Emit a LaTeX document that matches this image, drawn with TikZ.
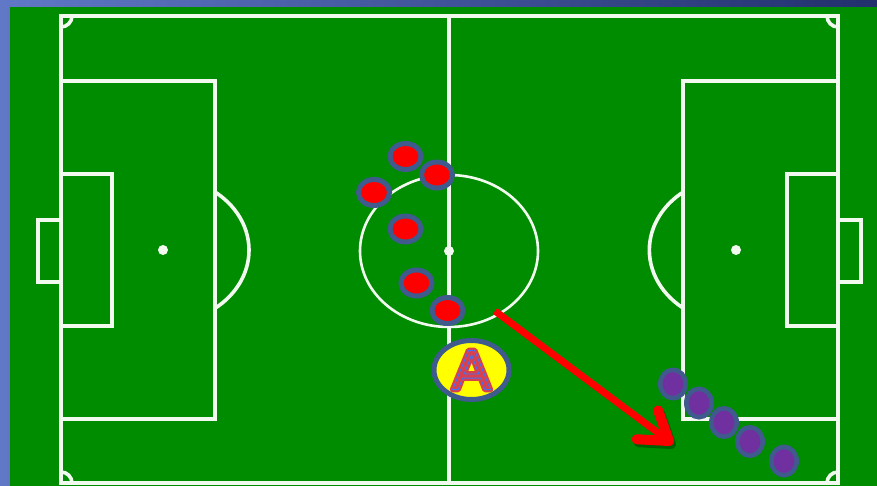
\documentclass[tikz,border=0pt]{standalone}
\usepackage{fontspec}
\setsansfont{Liberation Sans}
\usepackage{xcolor}
\definecolor{pitchGreen}{HTML}{008C00}
\definecolor{lineWhite}{HTML}{F2FAF0}
\definecolor{frameBlueLeft}{HTML}{6078C6}
\definecolor{frameBlueRight}{HTML}{22306C}
\definecolor{playerRed}{HTML}{FF0000}
\definecolor{playerPurple}{HTML}{7030A0}
\definecolor{playerRim}{HTML}{3F5A8C}
\definecolor{markYellow}{HTML}{FFFF00}
\definecolor{letterRed}{HTML}{D8404F}
\usepackage{tikz}
\usetikzlibrary{arrows.meta, shapes.geometric}

% outlined letter: thick red rim, thin blue inner line
\newcommand{\rimletter}[1]{%
	\rlap{\special{pdf:literal 0.85 0.25 0.31 RG 5.5 w 1 j 2 Tr}#1\special{pdf:literal 0 Tr}}%
	\special{pdf:literal 0.25 0.45 0.95 RG 0.9 w 1 j 2 Tr}#1\special{pdf:literal 0 Tr}}

\begin{document}
\begin{tikzpicture}[
		x=1pt, y=-1pt,
		pitchline/.style={draw=lineWhite, line width=3.6pt},
		redplayer/.style={
			ellipse,
			draw=playerRim,
			fill=playerRed,
			line width=5pt,
			minimum width=31pt,
			minimum height=26pt,
			inner sep=0pt
		},
		purpleplayer/.style={
			ellipse,
			draw=playerRim,
			fill=playerPurple,
			line width=4.5pt,
			minimum width=25.5pt,
			minimum height=28.5pt,
			inner sep=0pt
		},
		marker/.style={
			ellipse,
			draw=playerRim,
			fill=markYellow,
			line width=5pt,
			minimum width=75pt,
			minimum height=59pt,
			inner sep=0pt,
			text=letterRed,
			font=\sffamily\fontsize{57}{57}\selectfont
		},
		runarrow/.style={
			-{Straight Barb[length=27pt, width=36pt, line width=10pt, line cap=round, round]},
			draw=playerRed,
			line width=7pt,
			preaction={draw=black, opacity=0.3, transform canvas={shift={(2pt,-3pt)}}}
		}
		]
		
		% frame and grass
		\useasboundingbox (0,0) rectangle (877,486);
		\shade[left color=frameBlueLeft, right color=frameBlueRight] (0,0) rectangle (877,486);
		\fill[pitchGreen] (10,7) rectangle (877,486);
		
		% pitch markings
		\draw[pitchline] (61,16) rectangle (838,483);
		\draw[pitchline] (449,16) -- (449,483);
		\draw[pitchline, line width=2.6pt] (449,251) ellipse [x radius=89, y radius=76];
		\fill[lineWhite] (449,251) circle (5);
		
		\draw[pitchline] (61,81) rectangle (215,419);
		\draw[pitchline] (61,174) rectangle (112,326);
		\draw[pitchline] (61,220) rectangle (38,282);
		\fill[lineWhite] (163,250) circle (5);
		\draw[pitchline] (215,192) arc[start angle=-52.8, end angle=52.8, x radius=86, y radius=73];
		
		\draw[pitchline] (838,81) rectangle (683,419);
		\draw[pitchline] (838,174) rectangle (787,326);
		\draw[pitchline] (838,220) rectangle (861,282);
		\fill[lineWhite] (736,250) circle (5);
		\draw[pitchline] (683,308) arc[start angle=127.5, end angle=232.5, x radius=86, y radius=73];
		
		\draw[pitchline] (72,16) arc[start angle=0, end angle=90, radius=11];
		\draw[pitchline] (838,27) arc[start angle=90, end angle=180, radius=11];
		\draw[pitchline] (61,472) arc[start angle=270, end angle=360, radius=11];
		\draw[pitchline] (827,483) arc[start angle=180, end angle=270, radius=11];
		
		% red team
		\node[redplayer] (r1) at (405.5,156.5) {};
		\node[redplayer] (r2) at (437,175) {};
		\node[redplayer] (r3) at (374,192.5) {};
		\node[redplayer] (r4) at (405.5,229) {};
		\node[redplayer] (r5) at (416.5,283) {};
		\node[redplayer] (r6) at (447.5,310.5) {};
		
		% purple team
		\node[purpleplayer] (p1) at (673,384) {};
		\node[purpleplayer] (p2) at (699,403) {};
		\node[purpleplayer] (p3) at (724,422.5) {};
		\node[purpleplayer] (p4) at (750,441.5) {};
		\node[purpleplayer] (p5) at (784,461) {};
		
		% player A and run
		\node[marker] (a) at (471.5,370) {\rimletter{A}};
		
		\coordinate (runStart) at (495,311);
		\coordinate (runEnd) at (673,444);
		\draw[runarrow] (runStart) -- (runEnd);
		
	\end{tikzpicture}
\end{document}
